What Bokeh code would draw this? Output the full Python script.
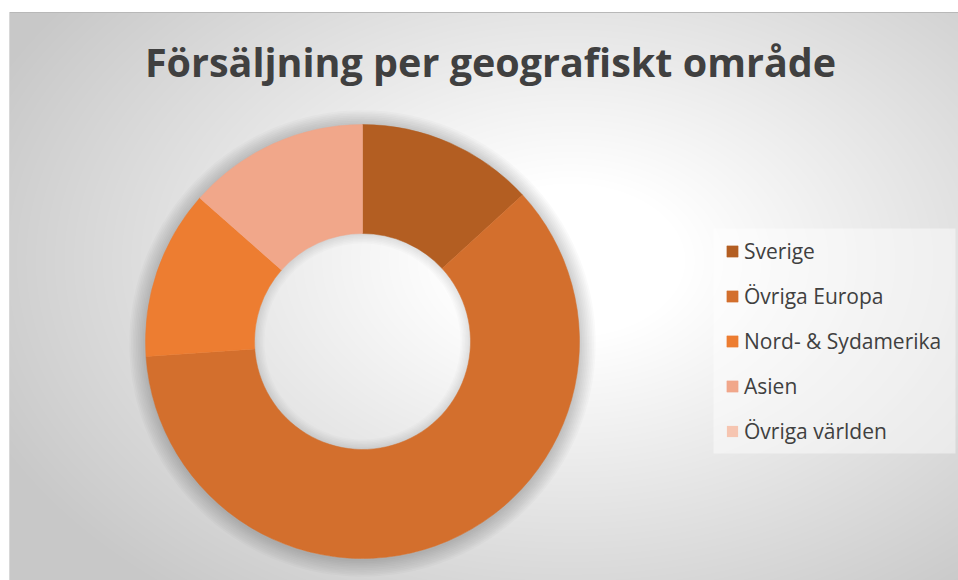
import numpy as np
from bokeh.plotting import figure
from bokeh.models import Range1d, Legend, LegendItem, ColumnDataSource
from bokeh.core.properties import value
from bokeh.embed import file_html
from bokeh.resources import INLINE

# ---- data ----
title_text = "Försäljning per geografiskt område"
categories = ["Sverige", "Övriga Europa", "Nord- & Sydamerika", "Asien", "Övriga världen"]
shares = [13.2, 60.7, 12.6, 13.5, 0.0]
colors = ["#B35E22", "#D36F2D", "#ED7D31", "#F1A78A", "#F6C5B1"]

W, H = 958, 580
p = figure(width=W, height=H, output_backend="svg", toolbar_location=None,
           x_range=Range1d(0, W), y_range=Range1d(0, H),
           x_axis_type=None, y_axis_type=None, min_border=0)
p.outline_line_color = None
p.grid.visible = False
p.background_fill_color = "white"
p.border_fill_color = "white"

# ---- background radial gradient (chart area) ----
bx0, by0 = 9, 0
bw, bh = W - bx0, H - 12
sx = np.arange(bw)[None, :] + bx0 + 0.5
sy = H - (np.arange(bh)[:, None] + by0 + 0.5)
cx, cy = 570.0, 260.0
d = np.sqrt(((sx - cx) / 640.0) ** 2 + ((sy - cy) / 430.0) ** 2)
t = np.clip((d - 0.18) / (1.0 - 0.18), 0, 1)
g = (255 - t * (255 - 200)).astype(np.uint8)
img = np.empty((bh, bw), dtype=np.uint32)
view = img.view(dtype=np.uint8).reshape((bh, bw, 4))
view[..., 0] = g
view[..., 1] = g
view[..., 2] = g
view[..., 3] = 255
p.image_rgba(image=[img], x=bx0, y=by0, dw=bw, dh=bh)
p.segment(x0=[bx0], y0=[by0 + bh], x1=[W], y1=[by0 + bh], line_color="#b8b8b8", line_width=1)
p.segment(x0=[bx0], y0=[by0], x1=[bx0], y1=[by0 + bh], line_color="#d8d8d8", line_width=1)

# ---- donut ----
cxd, cyd = 362, 239
r_out, r_in = 217, 108

# soft shadow
for k in range(10):
    p.annulus(x=[cxd], y=[cyd - 2], inner_radius=r_out - 2, outer_radius=r_out + 1 + k * 1.7,
              fill_color="black", fill_alpha=0.018, line_color=None)
for k in range(7):
    p.annulus(x=[cxd], y=[cyd], inner_radius=r_in - 1 - k * 1.5, outer_radius=r_in + 1,
              fill_color="black", fill_alpha=0.016, line_color=None)

tot = float(sum(shares))
cum = np.cumsum([0.0] + list(shares)) / tot
starts, ends, lalpha = [], [], []
for i, s in enumerate(shares):
    a_end = np.pi / 2 - 2 * np.pi * cum[i]
    a_start = np.pi / 2 - 2 * np.pi * cum[i + 1]
    if s <= 0:  # empty slice: keep it a sliver so it is not drawn as a full ring
        a_start = a_end - 1e-5
    starts.append(a_start)
    ends.append(a_end)
    lalpha.append(1.0 if s > 0 else 0.0)
src = ColumnDataSource(dict(cat=categories, start=starts, end=ends, color=colors,
                            la=lalpha, x=[cxd] * len(shares), y=[cyd] * len(shares)))
r = p.annular_wedge(x="x", y="y", inner_radius=r_in, outer_radius=r_out,
                    start_angle="start", end_angle="end",
                    fill_color="color", line_color="color", line_alpha="la",
                    line_width=0.5, source=src)

# ---- title ----
p.text(x=[490], y=[519], text=[title_text], text_align="center", text_baseline="alphabetic",
       text_font=value("Open Sans"), text_font_style="bold", text_font_size="39.5px",
       text_color="#404040")

# ---- legend ----
p.quad(left=[713], right=[955], bottom=[H - 453], top=[H - 228],
       fill_color="white", fill_alpha=0.45, line_color=None)
items = [LegendItem(label=c, renderers=[r], index=i) for i, c in enumerate(categories)]
leg = Legend(items=items, location=(725, 135), orientation="vertical",
             background_fill_alpha=0.0, border_line_color=None, padding=14, margin=0,
             glyph_width=14, glyph_height=14, label_standoff=5,
             label_text_font="Open Sans", label_text_font_size="21px",
             label_text_color="#404040", label_height=20, spacing=17)
p.add_layout(leg)

open("out.html", "w").write(file_html(p, INLINE))
